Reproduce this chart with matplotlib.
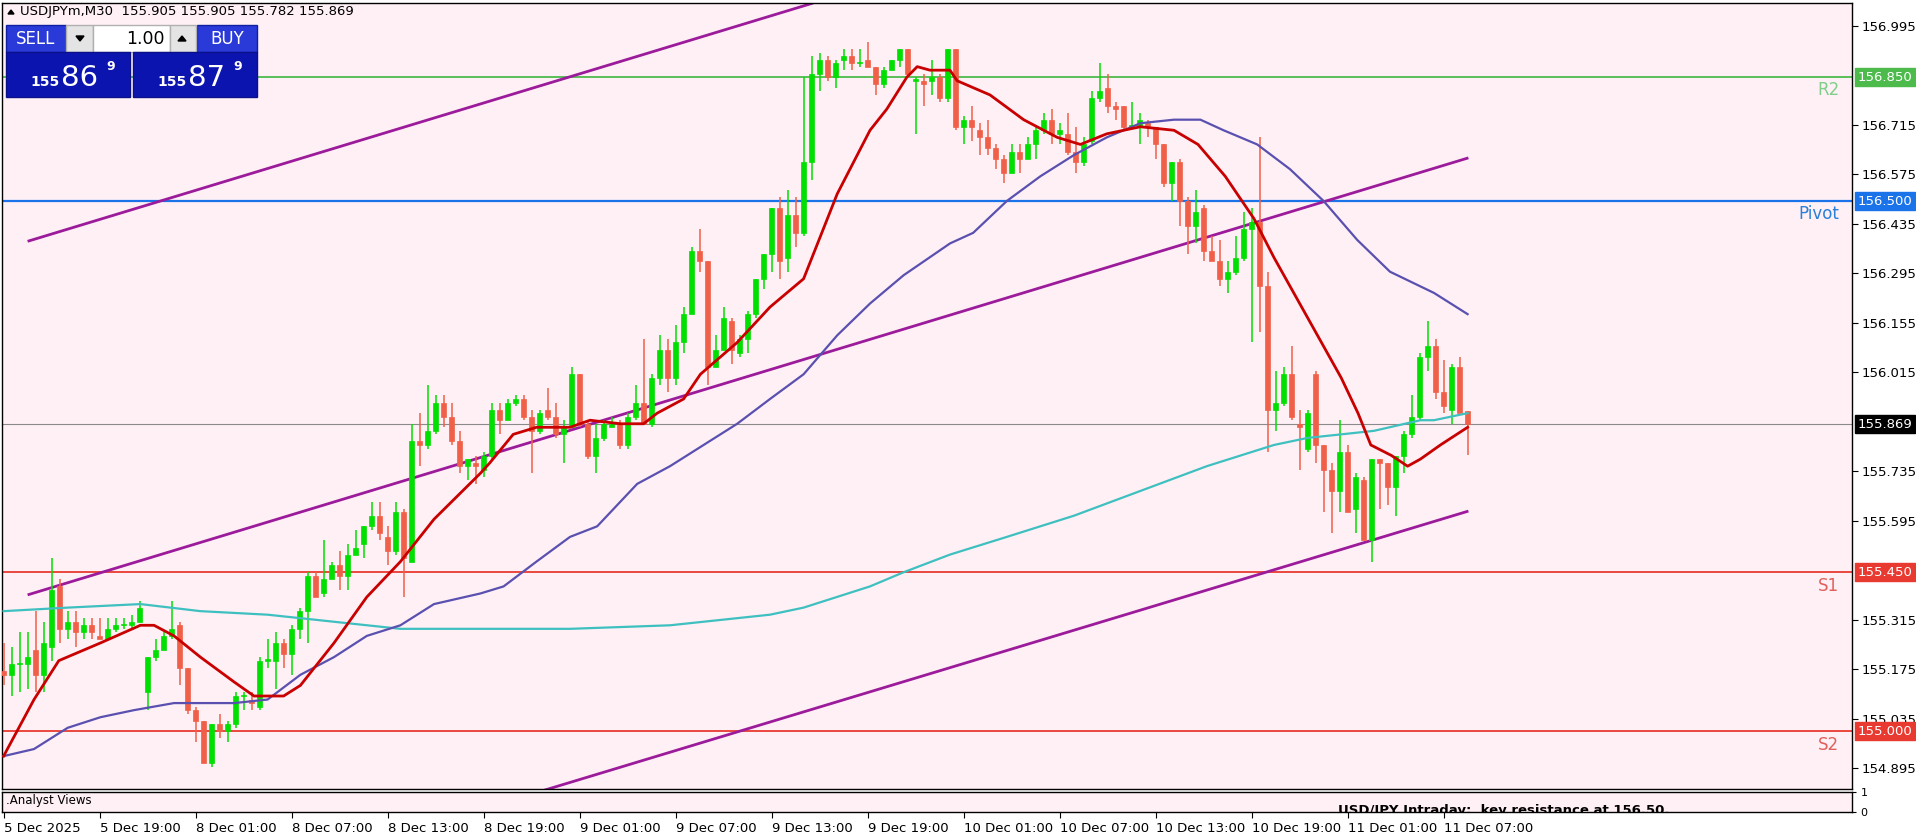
import matplotlib
matplotlib.use("Agg")
import matplotlib.pyplot as plt
from matplotlib.patches import Rectangle

opens = [155.17,155.16,155.19,155.19,155.23,155.16,155.24,155.41,155.29,155.31,
155.28,155.30,155.27,155.26,155.29,155.30,155.30,155.31,155.11,155.21,
155.23,155.27,155.30,155.18,155.06,155.03,154.91,155.02,155.00,155.02,
155.10,155.09,155.07,155.20,155.20,155.25,155.22,155.29,155.34,155.44,
155.39,155.43,155.47,155.44,155.50,155.53,155.58,155.61,155.55,155.51,
155.62,155.48,155.82,155.81,155.85,155.93,155.89,155.82,155.75,155.76,
155.74,155.78,155.91,155.88,155.93,155.94,155.89,155.85,155.91,155.89,
155.84,155.86,156.01,155.87,155.78,155.83,155.86,155.87,155.81,155.89,
155.93,155.87,156.00,156.08,156.00,156.10,156.18,156.36,156.33,156.03,
156.08,156.16,156.07,156.11,156.18,156.28,156.35,156.48,156.34,156.46,
156.41,156.61,156.86,156.90,156.85,156.90,156.91,156.89,156.90,156.88,
156.83,156.87,156.90,156.93,156.84,156.84,156.84,156.85,156.79,156.93,
156.71,156.73,156.70,156.68,156.65,156.62,156.58,156.64,156.62,156.66,
156.70,156.73,156.69,156.69,156.64,156.61,156.67,156.79,156.82,156.77,
156.77,156.71,156.71,156.72,156.71,156.66,156.55,156.61,156.50,156.43,
156.48,156.36,156.33,156.28,156.30,156.34,156.42,156.44,156.26,155.91,
155.93,156.01,155.87,155.80,156.01,155.81,155.74,155.68,155.79,155.63,
155.71,155.54,155.77,155.76,155.69,155.78,155.84,155.89,156.06,156.09,
155.96,155.91,156.03,155.905]
closes = [155.16,155.19,155.19,155.21,155.16,155.25,155.40,155.29,155.31,155.28,
155.30,155.28,155.26,155.29,155.30,155.30,155.31,155.35,155.21,155.23,
155.27,155.29,155.18,155.06,155.03,154.91,155.02,155.00,155.02,155.10,
155.10,155.08,155.20,155.20,155.25,155.22,155.29,155.34,155.44,155.38,
155.43,155.47,155.44,155.50,155.52,155.58,155.61,155.56,155.51,155.62,
155.49,155.82,155.81,155.85,155.93,155.89,155.82,155.75,155.77,155.75,
155.78,155.91,155.88,155.93,155.94,155.89,155.85,155.90,155.89,155.84,
155.86,156.01,155.87,155.78,155.83,155.87,155.87,155.81,155.89,155.93,
155.87,156.00,156.08,156.00,156.10,156.18,156.36,156.33,156.03,156.08,
156.17,156.08,156.11,156.18,156.28,156.35,156.48,156.33,156.46,156.41,
156.61,156.86,156.90,156.85,156.89,156.91,156.89,156.89,156.88,156.83,
156.87,156.90,156.93,156.86,156.84,156.83,156.85,156.79,156.93,156.71,
156.73,156.71,156.68,156.65,156.62,156.58,156.64,156.62,156.66,156.70,
156.73,156.69,156.70,156.64,156.61,156.66,156.79,156.81,156.77,156.76,
156.71,156.71,156.73,156.71,156.66,156.55,156.61,156.50,156.43,156.47,
156.36,156.33,156.28,156.30,156.34,156.42,156.44,156.26,155.91,155.93,
156.01,155.89,155.86,155.90,155.81,155.74,155.68,155.79,155.62,155.72,
155.54,155.77,155.76,155.69,155.78,155.84,155.89,156.06,156.09,155.96,
155.92,156.03,155.90,155.869]
highs = [155.25,155.24,155.28,155.28,155.34,155.31,155.49,155.43,155.34,155.34,
155.32,155.32,155.32,155.32,155.32,155.32,155.33,155.37,155.21,155.26,
155.28,155.37,155.31,155.18,155.07,155.03,155.02,155.05,155.03,155.11,
155.11,155.11,155.21,155.26,155.28,155.26,155.30,155.35,155.45,155.45,
155.54,155.48,155.51,155.53,155.57,155.58,155.65,155.65,155.58,155.65,
155.63,155.87,155.90,155.98,155.95,155.95,155.93,155.85,155.77,155.78,
155.79,155.93,155.93,155.94,155.95,155.95,155.91,155.91,155.97,155.93,
155.88,156.03,156.01,155.88,155.87,155.88,155.89,155.88,155.90,155.98,
156.11,156.01,156.12,156.11,156.15,156.20,156.37,156.42,156.33,156.12,
156.20,156.17,156.12,156.19,156.28,156.35,156.48,156.51,156.53,156.51,
156.85,156.91,156.92,156.91,156.90,156.93,156.93,156.93,156.95,156.88,
156.88,156.90,156.93,156.93,156.85,156.86,156.90,156.86,156.93,156.93,
156.74,156.77,156.72,156.73,156.66,156.63,156.66,156.66,156.68,156.71,
156.75,156.76,156.72,156.75,156.71,156.68,156.81,156.89,156.86,156.78,
156.77,156.78,156.75,156.73,156.71,156.66,156.61,156.62,156.51,156.53,
156.49,156.40,156.39,156.33,156.40,156.47,156.48,156.68,156.30,156.02,
156.03,156.09,155.91,155.91,156.02,155.81,155.76,155.88,155.81,155.73,
155.72,155.77,155.77,155.76,155.78,155.85,155.95,156.07,156.16,156.11,
156.05,156.04,156.06,155.905]
lows = [155.13,155.10,155.11,155.12,155.11,155.11,155.20,155.25,155.26,155.24,
155.26,155.26,155.26,155.26,155.28,155.29,155.29,155.31,155.06,155.20,
155.23,155.26,155.13,155.05,154.97,154.91,154.90,154.98,154.97,155.01,
155.06,155.06,155.06,155.18,155.12,155.18,155.16,155.26,155.25,155.38,
155.38,155.43,155.40,155.40,155.50,155.49,155.57,155.54,155.47,155.50,
155.38,155.48,155.75,155.80,155.84,155.86,155.81,155.73,155.71,155.70,
155.72,155.77,155.84,155.88,155.92,155.88,155.73,155.84,155.88,155.83,
155.76,155.86,155.86,155.77,155.73,155.82,155.86,155.80,155.80,155.88,
155.87,155.86,155.98,155.96,155.98,156.07,156.18,156.30,155.98,156.03,
156.08,156.04,156.06,156.07,156.17,156.25,156.30,156.28,156.30,156.37,
156.40,156.56,156.81,156.84,156.82,156.87,156.87,156.88,156.88,156.80,
156.82,156.87,156.88,156.85,156.69,156.77,156.80,156.78,156.78,156.70,
156.66,156.67,156.63,156.63,156.59,156.55,156.58,156.58,156.62,156.62,
156.69,156.66,156.66,156.63,156.58,156.60,156.66,156.78,156.75,156.73,
156.70,156.71,156.66,156.68,156.62,156.54,156.50,156.43,156.35,156.38,
156.33,156.33,156.26,156.24,156.29,156.33,156.10,156.13,155.79,155.85,
155.92,155.88,155.74,155.79,155.76,155.62,155.56,155.62,155.62,155.56,
155.54,155.48,155.63,155.64,155.61,155.73,155.83,155.88,156.02,155.94,
155.90,155.87,155.90,155.782]

ma_fast_x = [0,3.8,6.9,12.1,17.1,18.8,21.3,24.6,28.8,31.3,35,37.1,41.3,45.4,49.6,53.8,59.6,
             60.8,63.7,66.6,70.8,73.3,77.1,80,81.7,85,87.1,91.7,95.8,100,102.1,104.2,108.3,110.4,112.9,114.2,115.8,118.3,
             119.2,123.3,127.5,131.7,134.6,137.9,142.1,146.3,149.3,152.7,156.3,158.8,163,167.2,169.3,170.9,173.5,175.5,177.1,179.6,183]
ma_fast_y = [154.93,155.09,155.20,155.25,155.30,155.30,155.27,155.21,155.14,155.10,155.10,155.13,155.25,155.38,155.48,155.60,155.73,
             155.76,155.84,155.86,155.86,155.88,155.87,155.87,155.90,155.94,156.01,156.10,156.20,156.28,156.40,156.52,156.70,156.76,156.85,156.88,156.87,156.87,
             156.84,156.80,156.73,156.68,156.66,156.69,156.71,156.70,156.66,156.57,156.45,156.34,156.17,156.00,155.90,155.81,155.78,155.75,155.77,155.81,155.86]
ma_mid_x = [0,3.8,8,12.1,16.3,21.3,24.6,28.8,33,37.1,41.3,45.4,49.6,53.8,59.6,
            62.5,66.6,70.8,74.2,79.2,83.3,87.5,91.7,95.8,100,104.2,108.3,112.5,118.3,
            121.2,125.4,129.6,133.8,137.9,142.1,146.3,149.6,152.5,156.7,160.8,165,169.2,173.3,178.8,183]
ma_mid_y = [154.93,154.95,155.01,155.04,155.06,155.08,155.08,155.08,155.09,155.16,155.21,155.27,155.30,155.36,155.39,
            155.41,155.48,155.55,155.58,155.70,155.75,155.81,155.87,155.94,156.01,156.12,156.21,156.29,156.38,
            156.41,156.50,156.57,156.63,156.68,156.72,156.73,156.73,156.70,156.66,156.59,156.50,156.39,156.30,156.24,156.18]
ma_slow_x = [0,8,17.1,24.6,33,41.3,49.6,59.6,70.8,83.3,95.8,100,108.3,112.5,118.3,
             125.4,133.8,142.1,150.4,158.8,163,167.2,171.3,177.1,178.8,183]
ma_slow_y = [155.34,155.35,155.36,155.34,155.33,155.31,155.29,155.29,155.29,155.30,155.33,155.35,155.41,155.45,155.50,
             155.55,155.61,155.68,155.75,155.81,155.83,155.84,155.85,155.88,155.88,155.90]

channel_upper = ([3.0, 101.2], [156.386, 157.06])
channel_mid = ([3.0, 183.1], [155.386, 156.622])
channel_lower = ([67.5, 183.1], [154.833, 155.623])

levels = [("R2", 156.85, "#4cbb4c", "#7fcf8a"), ("Pivot", 156.50, "#1a73e8", "#2a7fd8"),
          ("S1", 155.45, "#e83a30", "#e0605a"), ("S2", 155.00, "#e83a30", "#e0605a")]
last_price = 155.869

tick_pos = [0, 12, 24, 36, 48, 60, 72, 84, 96, 108, 120, 132, 144, 156, 168, 180]
tick_labels = ["5 Dec 2025", "5 Dec 19:00", "8 Dec 01:00", "8 Dec 07:00", "8 Dec 13:00", "8 Dec 19:00",
               "9 Dec 01:00", "9 Dec 07:00", "9 Dec 13:00", "9 Dec 19:00", "10 Dec 01:00", "10 Dec 07:00",
               "10 Dec 13:00", "10 Dec 19:00", "11 Dec 01:00", "11 Dec 07:00"]
price_ticks = [154.895, 155.035, 155.175, 155.315, 155.595, 155.735, 156.015, 156.155,
               156.295, 156.435, 156.575, 156.715, 156.995]

W, H = 1916, 840
BG = "#fff0f5"
fig = plt.figure(figsize=(W/100, H/100), dpi=100, facecolor="white")
def frac(x0, y0, x1, y1):
    return [x0/W, 1-y1/H, (x1-x0)/W, (y1-y0)/H]

ax = fig.add_axes(frac(2, 3, 1852, 789))
ax.set_facecolor(BG)
XMAX = (1852-2)/8.0 - 0.2
ax.set_xlim(-0.2, XMAX)
ax.set_ylim(154.837, 157.060)

up_c, dn_c = "#00e000", "#f06048"
for i in range(len(closes)):
    o, c, h, l = opens[i], closes[i], highs[i], lows[i]
    col = up_c if c >= o else dn_c
    ax.vlines(i, l, h, color=col, lw=1.1, zorder=3)
    ax.add_patch(Rectangle((i-0.33, min(o, c)), 0.66, max(abs(c-o), 0.004), facecolor=col, edgecolor=col, lw=0.5, zorder=4))

ax.plot(ma_slow_x, ma_slow_y, color="#3fc0c0", lw=1.6, zorder=5)
ax.plot(ma_mid_x, ma_mid_y, color="#5a50b0", lw=1.6, zorder=5)
ax.plot(ma_fast_x, ma_fast_y, color="#c80000", lw=2.0, zorder=6)
for xs, ys in (channel_upper, channel_mid, channel_lower):
    ax.plot(xs, ys, color="#9b1b9b", lw=2.0, zorder=2, solid_capstyle="butt")

for name, val, col, tcol in levels:
    ax.axhline(val, color=col, lw=1.6 if name == "Pivot" else 1.3, zorder=1)
    ax.text(XMAX-1.6, val-0.012, name, color=tcol, fontsize=12, ha="right", va="top", zorder=7)
ax.axhline(last_price, color="#8a8a8a", lw=0.8, zorder=1)

ax.yaxis.tick_right()
ax.set_yticks(price_ticks)
ax.set_yticklabels([f"{v:.3f}" for v in price_ticks])
ax.tick_params(axis="y", direction="out", length=4, width=0.8, labelsize=9.5, pad=3, colors="black")
ax.set_xticks([])
for s in ax.spines.values():
    s.set_linewidth(1.0)
    s.set_color("black")

tags = [(156.85, "#4cbb4c", "white"), (156.50, "#1a73e8", "white"), (155.45, "#e83a30", "white"),
        (155.00, "#e83a30", "white"), (last_price, "black", "white")]
for val, bg, fg in tags:
    ax.annotate(f"{val:.3f}", xy=(1.0, val), xycoords=("axes fraction", "data"), xytext=(4, 0),
                textcoords="offset points", fontsize=9.5, color=fg, va="center", ha="left",
                bbox=dict(boxstyle="square,pad=0.18", fc=bg, ec=bg), zorder=10, annotation_clip=False)

# sub window
sub = fig.add_axes(frac(2, 792, 1852, 812))
sub.set_facecolor(BG)
sub.set_xlim(-0.2, XMAX)
sub.set_ylim(0, 1)
sub.yaxis.tick_right()
sub.set_yticks([0, 1])
sub.set_yticklabels(["0", "1"])
sub.tick_params(axis="y", length=3, labelsize=8, pad=3)
sub.set_xticks(tick_pos)
sub.set_xticklabels(tick_labels, ha="left")
sub.tick_params(axis="x", length=4, labelsize=9.5, pad=3, direction="out")
sub.text(0.002, 0.92, ".Analyst Views", transform=sub.transAxes, fontsize=8.5, va="top", ha="left")
sub.text(1336/1850, -0.25, "USD/JPY Intraday:  key resistance at 156.50.", transform=sub.transAxes,
         fontsize=9.5, fontweight="bold", va="bottom", ha="left", clip_on=True)
for s in sub.spines.values():
    s.set_linewidth(1.0)

# top-left header and trade panel (pixel overlay)
ov = fig.add_axes([0, 0, 1, 1])
ov.set_xlim(0, W)
ov.set_ylim(H, 0)
ov.axis("off")
ov.text(20, 12, "USDJPYm,M30  155.905 155.905 155.782 155.869", fontsize=9.5, va="center", ha="left")
ov.fill([8, 14, 11], [14, 14, 10], color="black")
blue_top, blue_bot = "#2a3ad8", "#0c14b0"
ov.add_patch(Rectangle((6, 25), 60, 27, fc=blue_top, ec="#1020a0"))
ov.add_patch(Rectangle((197, 25), 60, 27, fc=blue_top, ec="#1020a0"))
ov.add_patch(Rectangle((66, 25), 27, 27, fc="#e4e4e4", ec="#b0b0b0"))
ov.add_patch(Rectangle((93, 25), 77, 27, fc="white", ec="#b0b0b0"))
ov.add_patch(Rectangle((170, 25), 26, 27, fc="#e4e4e4", ec="#b0b0b0"))
ov.add_patch(Rectangle((6, 52), 124, 45, fc=blue_bot, ec="#0a108a"))
ov.add_patch(Rectangle((133, 52), 124, 45, fc=blue_bot, ec="#0a108a"))
ov.text(36, 39, "SELL", color="white", fontsize=12, ha="center", va="center")
ov.text(227, 39, "BUY", color="white", fontsize=12, ha="center", va="center")
ov.fill([76, 84, 80], [36, 36, 41], color="black")
ov.fill([178, 186, 182], [41, 41, 36], color="black")
ov.text(165, 38.5, "1.00", fontsize=12.5, ha="right", va="center")
for x0, big in ((30, "86"), (157, "87")):
    ov.text(x0, 86, "155", color="white", fontsize=10, fontweight="bold", ha="left", va="baseline")
    ov.text(x0 + 31, 86, big, color="white", fontsize=21, ha="left", va="baseline")
    ov.text(x0 + 76, 70, "9", color="white", fontsize=9, fontweight="bold", ha="left", va="baseline")

fig.savefig("out.png", dpi=100, facecolor="white")
